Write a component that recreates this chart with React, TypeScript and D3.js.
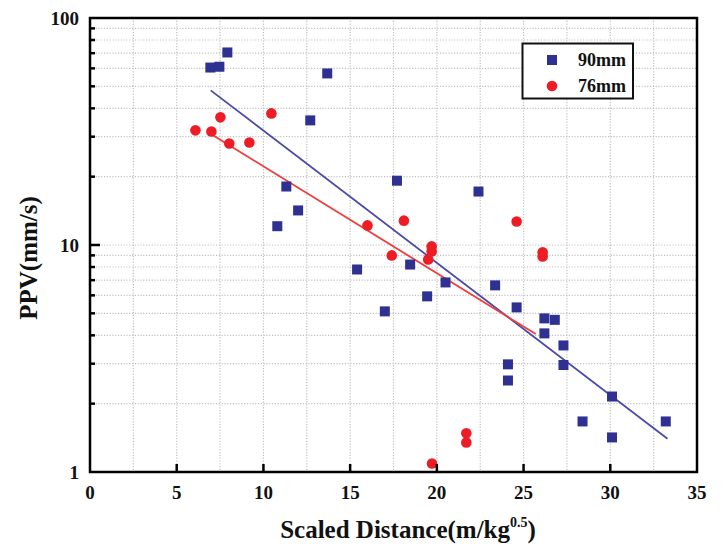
import React from "react";
import * as d3 from "d3";

const series90X = [6.94, 7.46, 7.92, 13.68, 12.7, 11.32, 10.8, 12.0, 15.4, 17.0, 17.7, 18.46, 19.44, 20.5, 22.4, 23.36, 24.6, 24.1, 24.1, 26.2, 26.8, 26.2, 27.3, 27.3, 28.4, 30.1, 30.1, 33.2];
const series90Y = [60.5, 61, 70.5, 57, 35.4, 18.1, 12.1, 14.2, 7.8, 5.1, 19.2, 8.2, 5.94, 6.84, 17.2, 6.64, 5.31, 2.98, 2.53, 4.75, 4.68, 4.08, 3.61, 2.96, 1.67, 2.15, 1.42, 1.67];
const series76X = [6.08, 7.0, 7.52, 8.03, 9.19, 10.46, 16.0, 17.4, 18.1, 19.5, 19.7, 19.7, 24.6, 26.1, 26.1, 21.7, 21.7, 19.72];
const series76Y = [32, 31.6, 36.5, 28, 28.3, 38, 12.2, 9.0, 12.8, 8.64, 9.86, 9.37, 12.7, 9.28, 8.9, 1.48, 1.35, 1.09];
const fit90X = [6.96, 33.3];
const fit90Y = [48, 1.4];
const fit76X = [6.95, 25.7];
const fit76Y = [30.9, 4.05];
const xTicks = [0, 5, 10, 15, 20, 25, 30, 35];
const xGrid = [2.5, 5, 7.5, 10, 12.5, 15, 17.5, 20, 22.5, 25, 27.5, 30, 32.5];
const yTicks = [1, 10, 100];
const yMinor = [2, 3, 4, 5, 6, 7, 8, 9, 20, 30, 40, 50, 60, 70, 80, 90];
const legendLabels = ["90mm", "76mm"];

const BLUE = "#2e3192";
const RED = "#ee1c24";
const FONT = "'Liberation Serif', 'Times New Roman', serif";

export default function App() {
  const W = 728, H = 547;
  const L = 90, R = 697, T = 18, B = 472;
  const x = d3.scaleLinear().domain([0, 35]).range([L, R]);
  const y = d3.scaleLog().domain([1, 100]).range([B, T]);
  const line = d3.line<[number, number]>().x(d => x(d[0])).y(d => y(d[1]));
  const fit90: [number, number][] = fit90X.map((v, i) => [v, fit90Y[i]]);
  const fit76: [number, number][] = fit76X.map((v, i) => [v, fit76Y[i]]);

  return (
    <svg width={W} height={H} style={{ position: "absolute", left: 0, top: 0, background: "#fff" }} fontFamily={FONT}>
      <rect x={0} y={0} width={W} height={H} fill="#fff" />
      {/* grid */}
      <g stroke="#c0c0c0" strokeWidth={1.2} strokeDasharray="1.2,1.6">
        {xGrid.map(v => <line key={"gx" + v} x1={x(v)} x2={x(v)} y1={T} y2={B} />)}
        {[...yMinor, 10].map(v => <line key={"gy" + v} x1={L} x2={R} y1={y(v)} y2={y(v)} />)}
      </g>
      {/* fit lines */}
      <path d={line(fit90) || ""} stroke="#4a4aa8" strokeWidth={1.8} fill="none" />
      <path d={line(fit76) || ""} stroke="#f03c3c" strokeWidth={1.8} fill="none" />
      {/* points */}
      {series90X.map((v, i) => (
        <rect key={"b" + i} x={x(v) - 5} y={y(series90Y[i]) - 5} width={10} height={10} fill={BLUE} />
      ))}
      {series76X.map((v, i) => (
        <circle key={"r" + i} cx={x(v)} cy={y(series76Y[i])} r={5.3} fill={RED} />
      ))}
      {/* ticks */}
      <g stroke="#000" strokeWidth={2.5}>
        {xTicks.slice(1, -1).map(v => <line key={"xt" + v} x1={x(v)} x2={x(v)} y1={B} y2={B - 8} />)}
        {yMinor.map(v => <line key={"ym" + v} x1={L} x2={L + 5} y1={y(v)} y2={y(v)} />)}
        <line x1={L} x2={L + 10} y1={y(10)} y2={y(10)} />
      </g>
      {/* frame */}
      <rect x={L} y={T} width={R - L} height={B - T} fill="none" stroke="#000" strokeWidth={2.5} />
      {/* tick labels */}
      <g fontSize={19} fontWeight="bold" fill="#111">
        {xTicks.map(v => (
          <text key={"xl" + v} x={x(v)} y={B + 27} textAnchor="middle">{v}</text>
        ))}
        {yTicks.map(v => (
          <text key={"yl" + v} x={L - 11} y={y(v) + 7} textAnchor="end">{v}</text>
        ))}
      </g>
      {/* axis titles */}
      <text x={408} y={538} fontSize={25} fontWeight="bold" fill="#111" textAnchor="middle">
        Scaled Distance(m/kg<tspan fontSize={14} dy={-11}>0.5</tspan><tspan dy={11}>)</tspan>
      </text>
      <text transform={`translate(37,${258}) rotate(-90)`} fontSize={25} fontWeight="bold" fill="#111" textAnchor="middle">
        PPV(mm/s)
      </text>
      {/* legend */}
      <rect x={522.5} y={43.5} width={110.5} height={55} fill="#fff" stroke="#111" strokeWidth={2} />
      <rect x={547} y={55} width={10} height={10} fill={BLUE} />
      <circle cx={552} cy={86} r={5.3} fill={RED} />
      <g fontSize={18} fontWeight="bold" fill="#111">
        <text x={578} y={66}>{legendLabels[0]}</text>
        <text x={578} y={92}>{legendLabels[1]}</text>
      </g>
    </svg>
  );
}
